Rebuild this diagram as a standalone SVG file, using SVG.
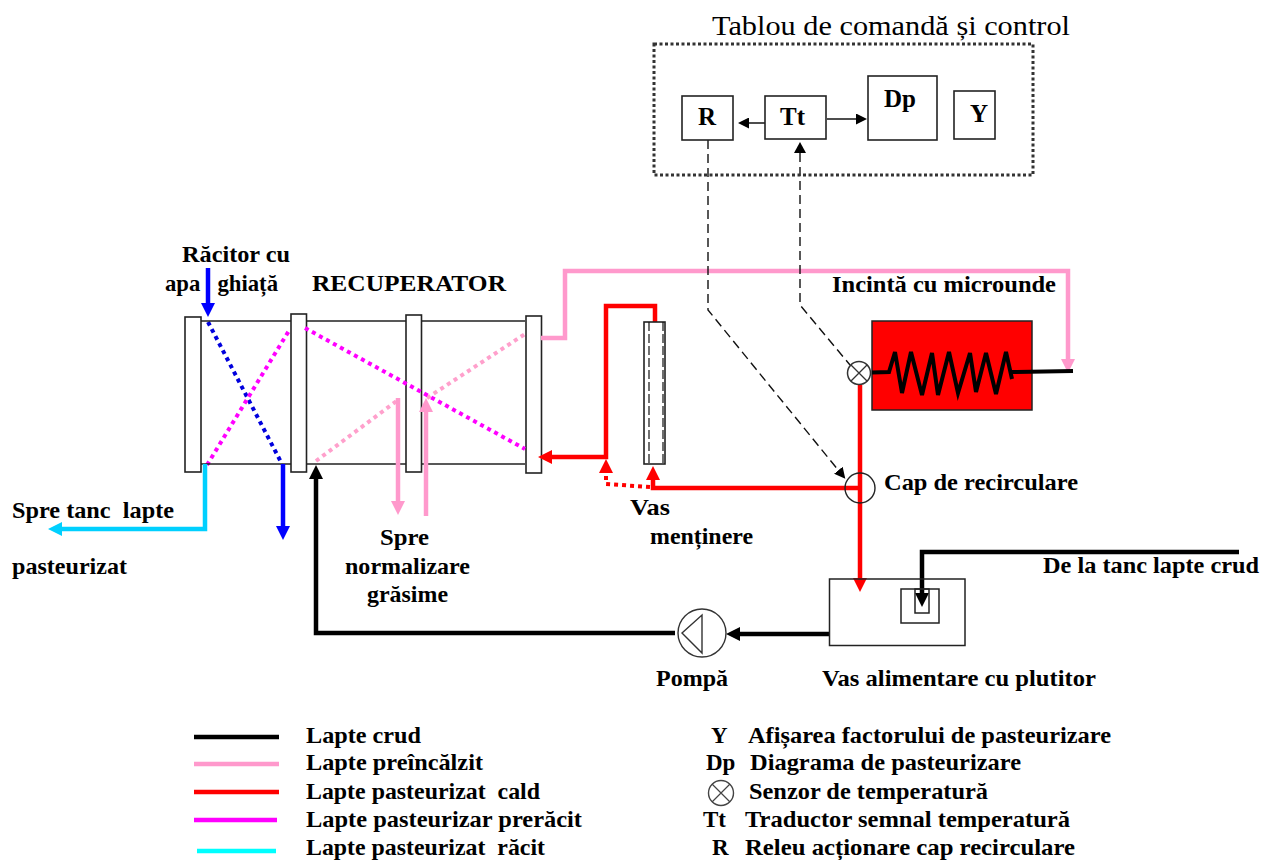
<svg xmlns="http://www.w3.org/2000/svg" width="1261" height="860" viewBox="0 0 1261 860">
<style>
text{font-family:"Liberation Serif","Times New Roman",serif;font-weight:bold;font-size:23px;fill:#000;white-space:pre;}
.title{font-weight:normal;font-size:28px;}
.big{font-size:25px;}
.box{fill:#fff;stroke:#222;stroke-width:1.6;}
.ln{fill:none;stroke-linejoin:miter;}
.blk{stroke:#000;stroke-width:4.5;}
.pnk{stroke:#ff99cc;stroke-width:4.5;}
.red{stroke:#f00;stroke-width:4.5;}
.blu{stroke:#00f;stroke-width:4.5;}
.cyn{stroke:#00d0ff;stroke-width:4.5;}
.dot{stroke-width:4;stroke-dasharray:4 4;fill:none;}
.dash{fill:none;stroke:#111;stroke-width:1.4;stroke-dasharray:9 5;}
</style>
<defs>
<marker id="hb" markerUnits="userSpaceOnUse" markerWidth="14" markerHeight="14" viewBox="0 0 14 14" refX="1" refY="7" orient="auto"><path d="M0 0L14 7L0 14z" fill="#000"/></marker>
<marker id="hp" markerUnits="userSpaceOnUse" markerWidth="14" markerHeight="14" viewBox="0 0 14 14" refX="1" refY="7" orient="auto"><path d="M0 0L14 7L0 14z" fill="#ff99cc"/></marker>
<marker id="hr" markerUnits="userSpaceOnUse" markerWidth="14" markerHeight="14" viewBox="0 0 14 14" refX="1" refY="7" orient="auto"><path d="M0 0L14 7L0 14z" fill="#f00"/></marker>
<marker id="hu" markerUnits="userSpaceOnUse" markerWidth="14" markerHeight="14" viewBox="0 0 14 14" refX="1" refY="7" orient="auto"><path d="M0 0L14 7L0 14z" fill="#00f"/></marker>
<marker id="hc" markerUnits="userSpaceOnUse" markerWidth="14" markerHeight="14" viewBox="0 0 14 14" refX="1" refY="7" orient="auto"><path d="M0 0L14 7L0 14z" fill="#00d0ff"/></marker>
<marker id="ht" markerUnits="userSpaceOnUse" markerWidth="11" markerHeight="11" viewBox="0 0 11 11" refX="1" refY="5.5" orient="auto"><path d="M0 0L11 5.500L0 11z" fill="#000"/></marker>
</defs>

<g id="connectors-under">
<path class="dot" stroke="#0000dd" d="M208 322L282 464"/>
<path class="dot" stroke="#ff00ff" d="M207 465L290 329"/>
<path class="dot" stroke="#ffa0cc" d="M316 461L398 400"/>
<path class="dot" stroke="#ffa0cc" d="M427 398L525 334"/>
</g>

<g id="recuperator">
<path d="M201 321H525M201 464H525" fill="none" stroke="#222" stroke-width="1.6"/>
<rect class="box" x="185" y="317" width="16" height="155"/>
<rect class="box" x="291" y="314" width="15.500" height="158"/>
<rect class="box" x="406" y="315" width="15.500" height="157"/>
<rect class="box" x="526" y="316" width="15.500" height="157"/>
<text x="182" y="262" textLength="108" lengthAdjust="spacingAndGlyphs">Răcitor cu</text>
<text x="165" y="291" textLength="113" lengthAdjust="spacingAndGlyphs">apa   ghiață</text>
<text x="312" y="291" textLength="194" lengthAdjust="spacingAndGlyphs">RECUPERATOR</text>
</g>

<g id="connectors">
<path class="dot" stroke="#ff00ff" d="M305 328L525 449"/>
<path class="ln blu" d="M208 268V304" marker-end="url(#hu)"/>
<path class="ln blu" d="M283 464V527" marker-end="url(#hu)"/>
<path class="ln cyn" d="M205 464V529H61" marker-end="url(#hc)"/>
<path class="ln blk" d="M829 634H739" marker-end="url(#hb)"/>
<path class="ln blk" d="M675 633H316V478" marker-end="url(#hb)"/>
<path class="ln pnk" d="M398 398V502" marker-end="url(#hp)"/>
<path class="ln pnk" d="M426 516V411" marker-end="url(#hp)"/>
<path class="ln pnk" d="M541 338H565V271H1068V360" marker-end="url(#hp)"/>
<path class="ln red" d="M655 322V306H606V457H551" marker-end="url(#hr)"/>
<path class="ln red" d="M860 488H653V479" marker-end="url(#hr)"/>
<path class="dot" stroke="#f00" d="M650 487L606 484V472" marker-end="url(#hr)"/>
<path class="ln red" d="M860 385V579" marker-end="url(#hr)"/>
<path class="ln blk" d="M1239 552H922V594" marker-end="url(#hb)"/>
<path class="dash" d="M708 140V310L839 471" marker-end="url(#ht)"/>
<path class="dash" d="M800 153V305L850 365"/>
<path d="M794 153L800 142L806 153z" fill="#000"/>
<path class="ln" stroke="#000" stroke-width="1.4" d="M765 123H748" marker-end="url(#ht)"/>
<path class="ln" stroke="#000" stroke-width="1.4" d="M827 119H857" marker-end="url(#ht)"/>
</g>

<g id="tablou">
<rect x="654" y="44" width="379" height="131" fill="none" stroke="#333" stroke-width="3" stroke-dasharray="3 2.500"/>
<text class="title" x="712" y="35" textLength="358" lengthAdjust="spacingAndGlyphs">Tablou de comandă și control</text>
</g>
<g id="node-r"><rect class="box" x="682" y="96" width="51" height="44"/><text class="big" x="698" y="125">R</text></g>
<g id="node-tt"><rect class="box" x="765" y="96" width="61" height="43"/><text class="big" x="780" y="125">Tt</text></g>
<g id="node-dp"><rect class="box" x="868" y="76" width="69" height="64"/><text class="big" x="884" y="107">Dp</text></g>
<g id="node-y"><rect class="box" x="954" y="91" width="41" height="48"/><text class="big" x="970" y="122">Y</text></g>

<g id="vas-mentinere">
<rect x="644" y="322" width="21" height="142" fill="none" stroke="#222" stroke-width="1.6"/>
<path d="M649 322V464M663 322V464" fill="none" stroke="#111" stroke-width="1.2" stroke-dasharray="9 3"/>
<text x="630" y="515" textLength="40" lengthAdjust="spacingAndGlyphs">Vas</text>
<text x="650" y="544" textLength="103" lengthAdjust="spacingAndGlyphs">menținere</text>
</g>

<g id="incinta">
<rect x="872" y="321" width="160" height="89" fill="#f00" stroke="#222" stroke-width="1.5"/>
<path fill="none" stroke="#000" stroke-width="4" d="M872 372.500L889 372L895 352L902 393L911 352L922 395L932 353L938 395L949 352L958 393L970 353L976 392L986 353L996 394L1006 352L1012 379M1012 372L1073 371"/>
<text x="832" y="292" textLength="224" lengthAdjust="spacingAndGlyphs">Incintă cu microunde</text>
</g>

<g id="senzor">
<circle cx="859" cy="373" r="11.500" fill="#fff" stroke="#333" stroke-width="1.5"/>
<path d="M851 365L867 381M867 365L851 381" stroke="#333" stroke-width="1.3"/>
</g>

<g id="cap-recirculare">
<circle cx="860" cy="488" r="15" fill="none" stroke="#222" stroke-width="1.4"/>
<text x="884" y="490" textLength="194" lengthAdjust="spacingAndGlyphs">Cap de recirculare</text>
</g>

<g id="vas-alimentare" fill="none" stroke="#222" stroke-width="1.5">
<rect x="829.500" y="579" width="135.500" height="66.500"/>
<rect x="901" y="589" width="38" height="34"/>
<rect x="915" y="589" width="14" height="24"/>
</g>
<g id="labels-alimentare">
<text x="1043" y="573" textLength="216" lengthAdjust="spacingAndGlyphs">De la tanc lapte crud</text>
<text x="822" y="686" textLength="274" lengthAdjust="spacingAndGlyphs">Vas alimentare cu plutitor</text>
</g>

<g id="pompa">
<circle cx="702" cy="633" r="24" fill="#fff" stroke="#333" stroke-width="1.4"/>
<path d="M682 633L702 615V653z" fill="none" stroke="#333" stroke-width="1.4"/>
<text x="656" y="686" textLength="72" lengthAdjust="spacingAndGlyphs">Pompă</text>
</g>

<g id="labels">
<text x="12" y="518" textLength="162" lengthAdjust="spacingAndGlyphs">Spre tanc  lapte</text>
<text x="12" y="574" textLength="115" lengthAdjust="spacingAndGlyphs">pasteurizat</text>
<text x="380" y="545" textLength="49" lengthAdjust="spacingAndGlyphs">Spre</text>
<text x="345" y="574" textLength="125" lengthAdjust="spacingAndGlyphs">normalizare</text>
<text x="367" y="602" textLength="81" lengthAdjust="spacingAndGlyphs">grăsime</text>
</g>

<g id="legend">
<path class="ln blk" d="M194 737H279"/>
<path class="ln pnk" d="M194 764H279"/>
<path class="ln red" d="M194 792H279"/>
<path class="ln" stroke="#ff00ff" stroke-width="4.500" d="M194 820H277"/>
<path class="ln" stroke="#00ffff" stroke-width="4.500" d="M197 851H276"/>
<text x="306" y="743" textLength="115" lengthAdjust="spacingAndGlyphs">Lapte crud</text>
<text x="306" y="770" textLength="177" lengthAdjust="spacingAndGlyphs">Lapte preîncălzit</text>
<text x="306" y="799" textLength="234" lengthAdjust="spacingAndGlyphs">Lapte pasteurizat  cald</text>
<text x="306" y="827" textLength="276" lengthAdjust="spacingAndGlyphs">Lapte pasteurizar prerăcit</text>
<text x="306" y="855" textLength="239" lengthAdjust="spacingAndGlyphs">Lapte pasteurizat  răcit</text>
<text x="711" y="743">Y</text>
<text x="748" y="743" textLength="363" lengthAdjust="spacingAndGlyphs">Afișarea factorului de pasteurizare</text>
<text x="706" y="770">Dp</text>
<text x="750" y="770" textLength="271" lengthAdjust="spacingAndGlyphs">Diagrama de pasteurizare</text>
<circle cx="721" cy="793" r="12.500" fill="none" stroke="#444" stroke-width="1.4"/>
<path d="M712 784L730 802M730 784L712 802" stroke="#444" stroke-width="1.2"/>
<text x="749" y="799" textLength="239" lengthAdjust="spacingAndGlyphs">Senzor de temperatură</text>
<text x="703" y="827">Tt</text>
<text x="745" y="827" textLength="325" lengthAdjust="spacingAndGlyphs">Traductor semnal temperatură</text>
<text x="712" y="855">R</text>
<text x="745" y="855" textLength="330" lengthAdjust="spacingAndGlyphs">Releu acționare cap recirculare</text>
</g>
</svg>
